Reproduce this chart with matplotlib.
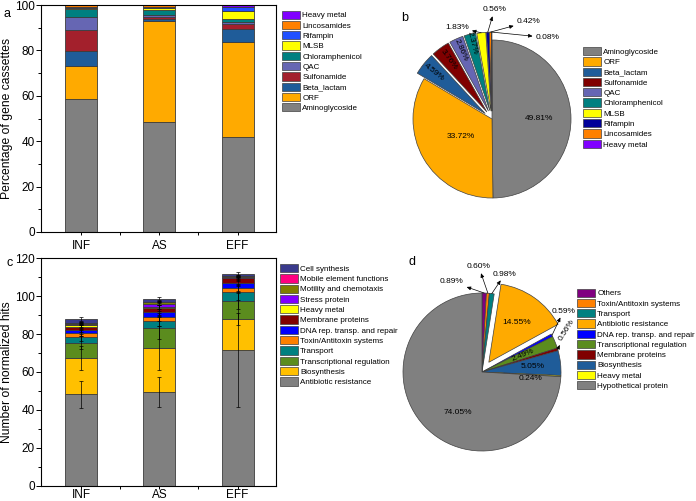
import numpy as np
import matplotlib
matplotlib.use("Agg")
import matplotlib.pyplot as plt
from matplotlib.patches import Patch
from matplotlib.ticker import MultipleLocator, FixedLocator

plt.rcParams['font.family'] = ['Liberation Sans', 'DejaVu Sans']

W, H = 696, 501

sites = ['INF', 'AS', 'EFF']

# panel a: gene cassettes (%), stacked bottom -> top
cassette_classes = ['Aminoglycoside', 'ORF', 'Beta_lactam', 'Sulfonamide', 'QAC',
                    'Chloramphenicol', 'MLSB', 'Rifampin', 'Lincosamides', 'Heavy metal']
cassette_inf = [58.7, 14.5, 6.5, 9.3, 5.6, 3.5, 0.6, 0.2, 0.9, 0.2]
cassette_as = [48.3, 44.7, 0.9, 0.6, 1.0, 2.5, 0.8, 0.2, 0.8, 0.2]
cassette_eff = [41.7, 41.8, 6.1, 1.9, 0.8, 1.6, 3.6, 1.5, 0.3, 0.7]
colors_a = ['#808080', '#ffaa00', '#1f5c99', '#a3202c', '#6666b3',
            '#008080', '#ffff00', '#2050ff', '#ff8000', '#8000ff']

# panel b: pie of cassette classes (%)
pie_b_pct = [49.81, 33.72, 4.59, 3.76, 2.86, 2.37, 1.83, 0.56, 0.42, 0.08]
colors_b = ['#808080', '#ffaa00', '#1f5c99', '#800000', '#6666b3',
            '#008080', '#ffff00', '#000099', '#ff8000', '#8000ff']

# panel c: normalized hits, stacked bottom -> top
function_classes = ['Antibiotic resistance', 'Biosynthesis', 'Transcriptional regulation',
                    'Transport', 'Toxin/Antitoxin systems', 'DNA rep. transp. and repair',
                    'Membrane proteins', 'Heavy metal', 'Stress protein',
                    'Motility and chemotaxis', 'Mobile element functions', 'Cell synthesis']
hits_inf = [48.2, 19.3, 8.0, 2.8, 2.2, 1.8, 1.6, 0.8, 0.4, 0.6, 0.2, 2.1]
hits_as = [49.3, 23.2, 10.9, 3.6, 2.0, 2.6, 2.0, 0.8, 1.7, 0.9, 0.2, 1.5]
hits_eff = [71.6, 16.4, 9.6, 4.6, 2.0, 2.8, 2.5, 0.2, 0.3, 0.4, 0.2, 1.2]
err_inf = [7.1, 6.3, 3.5, 2.0, 1.5, 1.0, 1.0, 0.8, 0.5, 0.5, 0.3, 1.2]
err_as = [8.0, 11.7, 5.8, 2.5, 2.0, 1.5, 1.5, 1.0, 1.0, 0.5, 0.3, 0.8]
err_eff = [30.3, 3.0, 4.5, 4.0, 1.5, 1.5, 1.5, 0.5, 0.5, 0.5, 0.3, 0.8]
colors_c = ['#808080', '#ffc000', '#5b8c1e', '#008080', '#ff8000', '#0000ff',
            '#800000', '#ffff00', '#8000ff', '#808000', '#ff0080', '#3a3a8c']

# panel d: pie of functions (%)
pie_d_classes = ['Others', 'Toxin/Antitoxin systems', 'Transport', 'Antibiotic resistance',
                 'DNA rep. transp. and repair', 'Transcriptional regulation',
                 'Membrane proteins', 'Biosynthesis', 'Heavy metal', 'Hypothetical protein']
pie_d_pct = [0.89, 0.60, 0.98, 14.55, 0.59, 2.49, 0.56, 5.05, 0.24, 74.05]
colors_d = ['#800080', '#ff8000', '#008080', '#ffaa00', '#0000ff',
            '#5b8c1e', '#800000', '#1f5c99', '#ffff00', '#808080']

EDGE = '#3c3c3c'

fig = plt.figure(figsize=(W / 100, H / 100), dpi=100)


def px_axes(x0, y0, x1, y1):
    # axes from pixel box (top-left origin)
    return fig.add_axes([x0 / W, 1 - y1 / H, (x1 - x0) / W, (y1 - y0) / H])


def stacked_bars(ax, rows, colors, errs=None):
    data = np.array(rows)
    x = np.arange(1, len(rows) + 1)
    bottom = np.zeros(len(rows))
    for k in range(data.shape[1]):
        ax.bar(x, data[:, k], 0.41, bottom=bottom, color=colors[k],
               edgecolor=EDGE, linewidth=0.6, zorder=2)
        bottom = bottom + data[:, k]
        if errs is not None:
            ax.errorbar(x, bottom, yerr=np.array(errs)[:, k], fmt='none', ecolor='black',
                        elinewidth=0.5, capsize=1.5, capthick=0.5, zorder=4)


def style_bar_axes(ax, ymax, ylabel, xpad):
    ax.set_xlim(0.49, 3.49)
    ax.set_ylim(0, ymax)
    ax.set_xticks([1, 2, 3])
    ax.set_xticklabels(sites)
    ax.xaxis.set_minor_locator(FixedLocator([1.5, 2.5]))
    ax.yaxis.set_major_locator(MultipleLocator(20))
    ax.yaxis.set_minor_locator(MultipleLocator(10))
    ax.tick_params(which='major', direction='out', length=3.5, width=0.7, labelsize=8.5)
    ax.tick_params(which='minor', direction='out', length=2, width=0.7)
    ax.tick_params(axis='y', pad=1)
    ax.tick_params(axis='x', which='major', length=2, pad=xpad)
    for s in ax.spines.values():
        s.set_linewidth(0.8)
    ax.set_ylabel(ylabel, fontsize=8.7)
    ax.yaxis.set_label_coords(-0.12, 0.5)


def add_legend(names, colors, x_px, y_px):
    handles = [Patch(facecolor=c, edgecolor='#404040', linewidth=0.5) for c in colors]
    fig.legend(handles, names, loc='upper left', bbox_to_anchor=(x_px / W, 1 - y_px / H),
               frameon=False, fontsize=5.8, borderpad=0, borderaxespad=0,
               handlelength=2.2, handleheight=1.2, handletextpad=0.3, labelspacing=0.18)


def pie_axes(cx, cy, r, half=110):
    ax = px_axes(cx - half, cy - half, cx + half, cy + half)
    return ax, half / r


def draw_pie(ax, lim, pct, colors, explode, specs):
    wedges, _ = ax.pie(pct, colors=colors, explode=explode, startangle=90,
                       counterclock=False, radius=1,
                       wedgeprops=dict(edgecolor='#404040', linewidth=0.5))
    for w, v, spec in zip(wedges, pct, specs):
        mid = (w.theta1 + w.theta2) / 2
        u = np.array([np.cos(np.deg2rad(mid)), np.sin(np.deg2rad(mid))])
        cx, cy = w.center
        txt = f'{v:.2f}%'
        kind = spec[0]
        if kind == 'in':
            dist, radial = spec[1], spec[2]
            rot = 0
            if radial:
                rot = (mid + 90) % 180 - 90
            ax.text(cx + dist * u[0], cy + dist * u[1], txt, ha='center', va='center',
                    rotation=rot, fontsize=6)
        elif kind == 'at':
            ax.text(spec[1][0], spec[1][1], txt, ha='center', va='center', fontsize=6)
        else:
            tx, ty = spec[1]
            rot = spec[2] if len(spec) > 2 else 0
            ax.annotate(txt, xy=(cx + u[0], cy + u[1]), xytext=(tx, ty),
                        ha='center', va='center', fontsize=6, rotation=rot,
                        arrowprops=dict(arrowstyle='<|-,head_length=0.4,head_width=0.18',
                                        color='black', lw=0.5, shrinkA=0, shrinkB=0))
    ax.set_xlim(-lim, lim)
    ax.set_ylim(-lim, lim)
    ax.set_aspect('equal')
    ax.axis('off')


# ---- panel a
ax_a = px_axes(41, 5, 276, 232)
stacked_bars(ax_a, [cassette_inf, cassette_as, cassette_eff], colors_a)
style_bar_axes(ax_a, 100, 'Percentage of gene cassettes', 4)
add_legend(cassette_classes[::-1], colors_a[::-1], 282, 10.5)

# ---- panel b
ax_b, lim_b = pie_axes(492, 119, 79)
specs_b = [('in', 0.6, False), ('in', 0.45, False), ('in', 0.83, True), ('in', 0.82, True),
           ('in', 0.85, True), ('in', 0.88, True),
           ('out', (-0.44, 1.16)), ('out', (0.03, 1.38)), ('out', (0.46, 1.23)),
           ('out', (0.70, 1.03))]
draw_pie(ax_b, lim_b, pie_b_pct, colors_b,
         [0, 0, 0.11, 0.11, 0.11, 0.11, 0.1, 0.1, 0.1, 0.1], specs_b)
add_legend(cassette_classes, colors_b, 583, 47)

# ---- panel c
ax_c = px_axes(41, 258.3, 276, 485.7)
stacked_bars(ax_c, [hits_inf, hits_as, hits_eff], colors_c,
             [err_inf, err_as, err_eff])
style_bar_axes(ax_c, 120, 'Number of normalized hits', 0.5)
add_legend(function_classes[::-1], colors_c[::-1], 280, 264)

# ---- panel d
ax_d, lim_d = pie_axes(482, 372, 79)
specs_d = [('out', (-0.38, 1.14)), ('out', (-0.04, 1.33)), ('out', (0.29, 1.24)),
           ('in', 0.62, False), ('out', (1.03, 0.77)), ('in', 0.56, True),
           ('out', (1.07, 0.53), 58), ('in', 0.65, False), ('at', (0.61, -0.08)),
           ('at', (-0.30, -0.51))]
draw_pie(ax_d, lim_d, pie_d_pct, colors_d, [0, 0, 0, 0.15, 0, 0, 0, 0, 0, 0], specs_d)
add_legend(pie_d_classes, colors_d, 577, 288.5)

# panel letters
for letter, (x, y) in zip('abcd', [(7, 14), (405, 18), (10, 263), (412, 262)]):
    fig.text(x / W, 1 - y / H, letter, fontsize=9, ha='center', va='center')

fig.savefig('out.png', dpi=100)
